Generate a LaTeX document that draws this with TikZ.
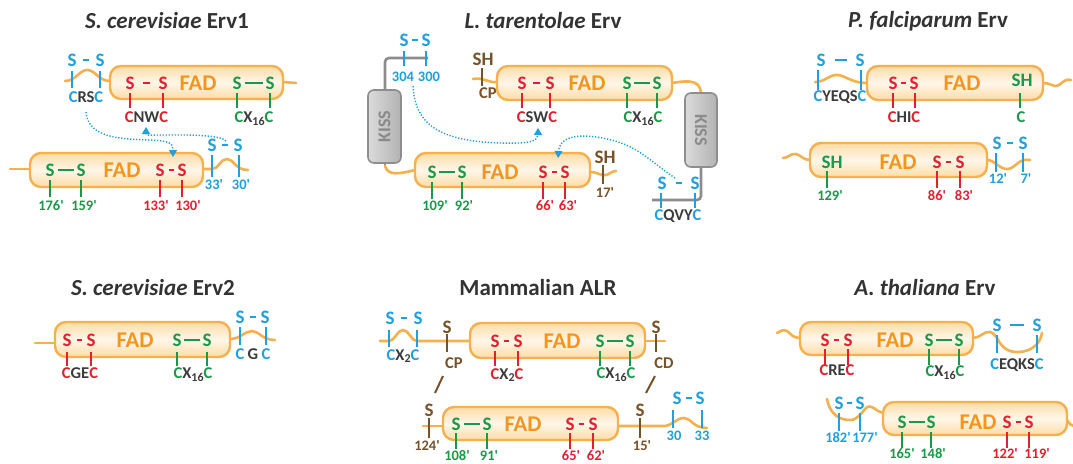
\documentclass[tikz,border=0pt]{standalone}
\usepackage{fontspec}
\setmainfont{Carlito}
\usetikzlibrary{arrows.meta}
\definecolor{sblue}{HTML}{1FA0E0}
\definecolor{sred}{HTML}{E5202E}
\definecolor{sgreen}{HTML}{1A9A48}
\definecolor{sbrown}{HTML}{7A5228}
\definecolor{dk}{HTML}{3C3C3C}
\definecolor{ttlgray}{HTML}{333333}
\definecolor{fadorange}{HTML}{F7941D}
\definecolor{chainor}{HTML}{F6B04E}
\definecolor{boxedge}{HTML}{FCDCA6}
\definecolor{boxmid}{HTML}{FFF7EA}
\definecolor{kissfill}{HTML}{D2D2D2}
\definecolor{kissdraw}{HTML}{8E8E8E}
\definecolor{kisstext}{HTML}{8A8A8A}
\definecolor{graych}{HTML}{8C8C8C}
\newcommand{\prm}{\textquotesingle}
\newcommand{\lowidx}[1]{\raisebox{-0.35ex}{\fontsize{12}{12}\selectfont #1}}
\newcommand{\cxc}[2]{\textcolor{#1}{C}\textcolor{dk}{#2}\textcolor{#1}{C}}
\newcommand{\cxn}[2]{\textcolor{#1}{C}\textcolor{dk}{X\lowidx{#2}}\textcolor{#1}{C}}
\newcommand{\ssp}[5]{%
  \node[slab,text=#4] at (#1,#3) {S};
  \node[slab,text=#4] at (#2,#3) {S};
  \draw[#4,line width=2.4pt] ({(#1+#2)/2-#5},#3) -- ({(#1+#2)/2+#5},#3);}
\newcommand{\tk}[4]{\draw[#1,line width=1.5pt] (#2,#3) -- (#2,#4);}
\begin{document}
\begin{tikzpicture}[x=1pt,y=-1pt,
  slab/.style={font=\fontsize{19}{19}\selectfont\bfseries, inner sep=0pt},
  res/.style={font=\fontsize{16.5}{16.5}\selectfont\bfseries, inner sep=0pt, text=dk},
  num/.style={font=\fontsize{14.5}{14.5}\selectfont\bfseries, inner sep=0pt},
  fadt/.style={font=\fontsize{22.5}{22.5}\selectfont\bfseries, text=fadorange, inner sep=0pt},
  ttl/.style={font=\fontsize{23}{23}\selectfont\bfseries, text=ttlgray, inner sep=0pt},
  chain/.style={draw=chainor, line width=2.6pt, line cap=round},
  graychain/.style={draw=graych, line width=2.6pt},
  fadbox/.style={draw=chainor, line width=2.4pt, rounded corners=11pt, top color=boxedge, bottom color=boxedge, middle color=boxmid},
  kiss/.style={draw=kissdraw, line width=1.6pt, rounded corners=6pt, left color=kissfill!80!white, right color=kissfill!85!black},
  kisst/.style={font=\fontsize{18}{18}\selectfont\bfseries, text=kisstext, inner sep=0pt},
  dotarr/.style={draw=sblue, line width=1.4pt, dash pattern=on 1.3pt off 1.7pt, -{Triangle[length=7pt,width=8pt]}}
]
\useasboundingbox (0,0) rectangle (1073,463);
\fill[white] (0,0) rectangle (1073,463);

% ================= Panel 1: S. cerevisiae Erv1 =================
\node[ttl] (t1) at (167,21) {\textit{S. cerevisiae} Erv1};
\draw[chain] (65,81) .. controls (76,81) and (80,69) .. (88,70) .. controls (96,71) and (99,81) .. (110,81);
\draw[chain] (283,82) -- (296,83);
\draw[fadbox] (110,66) rectangle (283,99);
\ssp{72}{100}{60}{sblue}{3}
\tk{sblue}{72}{71}{88} \tk{sblue}{100}{71}{88}
\node[res] (p1a) at (86,97) {\cxc{sblue}{RS}};
\ssp{130}{163}{83}{sred}{3.5}
\tk{sred}{130}{93}{108} \tk{sred}{163}{93}{108}
\node[res] (p1b) at (146.5,117) {\cxc{sred}{NW}};
\node[fadt] at (198,83) {FAD};
\ssp{237}{270}{83}{sgreen}{9}
\tk{sgreen}{237}{93}{108} \tk{sgreen}{270}{93}{108}
\node[res] at (254,119) {\cxn{sgreen}{16}};
% bottom
\draw[chain] (10,169) -- (30,169);
\draw[chain] (203,169) -- (212,169) .. controls (219,169) and (220,159) .. (227,159) .. controls (234,159) and (235,170) .. (248,170);
\draw[fadbox] (30,153) rectangle (203,187);
\ssp{50}{81}{170}{sgreen}{8}
\node[fadt] at (122,170) {FAD};
\ssp{160}{182}{170}{sred}{2.5}
\tk{sgreen}{50}{180}{197} \tk{sgreen}{81}{180}{197}
\tk{sred}{160}{180}{197} \tk{sred}{182}{180}{197}
\node[num,text=sgreen] at (51,206) {176\prm};
\node[num,text=sgreen] at (84,206) {159\prm};
\node[num,text=sred] at (156,206) {133\prm};
\node[num,text=sred] at (188,206) {130\prm};
\ssp{212}{238}{145}{sblue}{3}
\tk{sblue}{212}{155}{177} \tk{sblue}{239}{155}{177}
\node[num,text=sblue] at (214,185) {33\prm};
\node[num,text=sblue] at (241,185) {30\prm};
\draw[dotarr] (86,112) .. controls (88,138) and (120,139) .. (150,140) .. controls (168,141) and (173,142) .. (173,157);
\draw[dotarr] (226,141) .. controls (220,134) and (180,135) .. (160,135) .. controls (150,135) and (146,136) .. (146,127);

% ================= Panel 2: L. tarentolae Erv =================
\node[ttl] at (543,21) {\textit{L. tarentolae} Erv};
\draw[graychain, rounded corners=4pt] (385,92) -- (385,58) -- (428,58);
\ssp{404}{426}{40}{sblue}{3}
\tk{sblue}{404}{51}{66} \tk{sblue}{426}{51}{66}
\node[num,text=sblue] at (403,77) {304};
\node[num,text=sblue] at (429,77) {300};
\draw[graychain] (385,160) -- (385,167);
\draw[chain] (385,166) .. controls (388,176) and (399,174) .. (415,170);
\draw[kiss] (368,90) rectangle (401,163);
\node[kisst,rotate=90] at (384.5,126.5) {KISS};
\draw[fadbox] (415,153) rectangle (590,187);
\ssp{432}{462}{172}{sgreen}{8}
\node[fadt] at (500,172) {FAD};
\ssp{543}{565}{172}{sred}{2.5}
\tk{sgreen}{432}{182}{199} \tk{sgreen}{462}{182}{199}
\tk{sred}{543}{182}{199} \tk{sred}{565}{182}{199}
\node[num,text=sgreen] at (435,206) {109\prm};
\node[num,text=sgreen] at (464,206) {92\prm};
\node[num,text=sred] at (545,206) {66\prm};
\node[num,text=sred] at (568,206) {63\prm};
\draw[chain] (590,172) .. controls (598,172) and (600,176) .. (606,175) .. controls (610,174) and (612,171) .. (616,171);
\node[slab,text=sbrown] at (605,157) {SH};
\tk{sbrown}{603}{165}{184}
\node[num,text=sbrown] at (605,193) {17\prm};
% top
\draw[chain] (473,79) .. controls (483,77) and (488,83) .. (497,82);
\node[slab,text=sbrown] at (483,59) {SH};
\tk{sbrown}{482}{68}{86}
\node[res,text=sbrown] at (488,93) {CP};
\draw[chain] (672,83) .. controls (690,80) and (701,80) .. (701,95);
\draw[fadbox] (497,66) rectangle (672,100);
\ssp{522}{550}{83}{sred}{3.5}
\tk{sred}{522}{93}{108} \tk{sred}{550}{93}{108}
\node[res] at (537,117) {\cxc{sred}{SW}};
\node[fadt] at (587,83) {FAD};
\ssp{627}{657}{83}{sgreen}{8}
\tk{sgreen}{627}{93}{108} \tk{sgreen}{657}{93}{108}
\node[res] at (643,119) {\cxn{sgreen}{16}};
\draw[graychain, rounded corners=4pt] (701,165) -- (701,200) -- (652,200);
\draw[kiss] (685,93) rectangle (717,167);
\node[kisst,rotate=-90] at (701,130) {KISS};
\ssp{662}{695}{183}{sblue}{3}
\tk{sblue}{661}{193}{208} \tk{sblue}{695}{193}{208}
\node[res] at (678,216) {\cxc{sblue}{QVY}};
\draw[dotarr] (413,86) .. controls (415,125) and (440,141) .. (500,143) .. controls (530,144) and (538,141) .. (538,128);
\draw[dotarr] (675,178) .. controls (655,165) and (640,148) .. (615,141) .. controls (590,134) and (560,132) .. (558,158);

% ================= Panel 3: P. falciparum Erv =================
\node[ttl] at (928,21) {\textit{P. falciparum} Erv};
\draw[chain] (815,82) .. controls (825,82) and (830,74) .. (838,75) .. controls (846,76) and (852,83) .. (867,83);
\draw[chain] (1043,83) .. controls (1050,83) and (1052,86) .. (1056,86) .. controls (1061,86) and (1063,78) .. (1071,80);
\draw[fadbox] (867,66) rectangle (1043,100);
\ssp{821}{860}{60}{sblue}{6}
\tk{sblue}{818}{70}{90} \tk{sblue}{861}{70}{90}
\node[res] at (840,97) {\cxc{sblue}{YEQS}};
\ssp{893}{914}{83}{sred}{2.5}
\tk{sred}{893}{93}{108} \tk{sred}{915}{93}{108}
\node[res] at (904,117) {\cxc{sred}{HI}};
\node[fadt] at (962,83) {FAD};
\node[slab,text=sgreen] at (1022,80) {SH};
\tk{sgreen}{1020}{93}{108}
\node[res,text=sgreen] at (1021,117) {C};
% bottom
\draw[chain] (783,158) .. controls (788,158) and (791,153) .. (796,154) .. controls (801,155) and (803,160) .. (810,160);
\draw[chain] (987,160) .. controls (995,160) and (1000,170) .. (1008,169) .. controls (1016,168) and (1018,158) .. (1030,160);
\draw[fadbox] (810,143) rectangle (987,177);
\node[slab,text=sgreen] at (832,162) {SH};
\tk{sgreen}{827}{171}{188}
\node[num,text=sgreen] at (830,196) {129\prm};
\node[fadt] at (898,162) {FAD};
\ssp{937}{960}{162}{sred}{2.5}
\tk{sred}{937}{171}{188} \tk{sred}{960}{171}{188}
\node[num,text=sred] at (937,196) {86\prm};
\node[num,text=sred] at (964,196) {83\prm};
\ssp{997}{1023}{143}{sblue}{3}
\tk{sblue}{996}{153}{172} \tk{sblue}{1023}{153}{172}
\node[num,text=sblue] at (998,179) {12\prm};
\node[num,text=sblue] at (1026,179) {7\prm};

% ================= Panel 4: S. cerevisiae Erv2 =================
\node[ttl] at (153,288) {\textit{S. cerevisiae} Erv2};
\draw[chain] (35,343) -- (55,343);
\draw[chain] (230,339) .. controls (240,339) and (245,331) .. (252,331) .. controls (259,331) and (262,340) .. (275,340);
\draw[fadbox] (55,322) rectangle (230,357);
\ssp{67}{91}{340}{sred}{2.5}
\tk{sred}{67}{352}{366} \tk{sred}{91}{352}{366}
\node[res] at (80,373) {\cxc{sred}{GE}};
\node[fadt] at (135,340) {FAD};
\ssp{177}{207}{340}{sgreen}{8}
\tk{sgreen}{177}{352}{366} \tk{sgreen}{207}{352}{366}
\node[res] at (193,375) {\cxn{sgreen}{16}};
\ssp{240}{265}{317}{sblue}{3}
\tk{sblue}{240}{327}{345} \tk{sblue}{266}{327}{345}
\node[res,text=sblue] at (240,354) {C};
\node[res] at (253,354) {G};
\node[res,text=sblue] at (266,354) {C};

% ================= Panel 5: Mammalian ALR =================
\node[ttl] at (538,288) {Mammalian ALR};
\draw[chain] (380,341) -- (389,341) .. controls (395,341) and (397,330) .. (403,330) .. controls (409,330) and (411,341) .. (417,341) -- (470,341);
\draw[chain] (645,341) -- (665,341);
\draw[fadbox] (470,323) rectangle (645,358);
\ssp{390}{418}{318}{sblue}{3}
\tk{sblue}{389}{330}{347} \tk{sblue}{417}{330}{347}
\node[res] at (403,356) {\cxn{sblue}{2}};
\node[slab,text=sbrown] at (447,327) {S};
\tk{sbrown}{447}{334}{352}
\node[res,text=sbrown] at (454,363) {CP};
\ssp{495}{518}{341}{sred}{2.5}
\tk{sred}{495}{351}{366} \tk{sred}{518}{351}{366}
\node[res] at (507,375) {\cxn{sred}{2}};
\node[fadt] at (562,341) {FAD};
\ssp{600}{630}{341}{sgreen}{8}
\tk{sgreen}{600}{351}{366} \tk{sgreen}{630}{351}{366}
\node[res] at (616,375) {\cxn{sgreen}{16}};
\node[slab,text=sbrown] at (656,327) {S};
\tk{sbrown}{656}{334}{352}
\node[res,text=sbrown] at (664,363) {CD};
\draw[sbrown,line width=2pt] (443,376) -- (435,393);
\draw[sbrown,line width=2pt] (655,376) -- (646,393);
% bottom
\draw[chain] (423,426) -- (443,426);
\draw[chain] (618,426) -- (664,426) .. controls (672,426) and (676,418) .. (684,418) .. controls (691,418) and (693,428) .. (707,428);
\draw[fadbox] (443,407) rectangle (618,440);
\node[slab,text=sbrown] at (429,410) {S};
\tk{sbrown}{429}{418}{438}
\node[num,text=sbrown] at (427,446) {124\prm};
\ssp{456}{487}{424}{sgreen}{8}
\node[fadt] at (523,424) {FAD};
\ssp{570}{593}{424}{sred}{2.5}
\tk{sgreen}{456}{433}{449} \tk{sgreen}{487}{433}{449}
\tk{sred}{570}{433}{449} \tk{sred}{593}{433}{449}
\node[num,text=sgreen] at (457,456) {108\prm};
\node[num,text=sgreen] at (489,456) {91\prm};
\node[num,text=sred] at (571,456) {65\prm};
\node[num,text=sred] at (596,456) {62\prm};
\node[slab,text=sbrown] at (640,410) {S};
\tk{sbrown}{640}{418}{438}
\node[num,text=sbrown] at (642,446) {15\prm};
\ssp{677}{700}{398}{sblue}{3}
\tk{sblue}{673}{410}{428} \tk{sblue}{702}{410}{428}
\node[num,text=sblue] at (674,436) {30};
\node[num,text=sblue] at (702,436) {33};

% ================= Panel 6: A. thaliana Erv =================
\node[ttl] at (925,288) {\textit{A. thaliana} Erv};
\draw[chain] (777,333) .. controls (781,331) and (783,329) .. (787,331) .. controls (791,334) and (793,338) .. (800,338);
\draw[chain] (973,338) .. controls (980,338) and (984,331) .. (990,332) .. controls (994,333) and (995,336) .. (997,338) .. controls (1003,350) and (1010,352) .. (1018,352) .. controls (1030,352) and (1040,345) .. (1042,333);
\draw[fadbox] (800,322) rectangle (973,355);
\ssp{825}{848}{340}{sred}{2.5}
\tk{sred}{825}{349}{365} \tk{sred}{848}{349}{365}
\node[res] at (837,370) {\cxc{sred}{RE}};
\node[fadt] at (895,340) {FAD};
\ssp{929}{959}{340}{sgreen}{8}
\tk{sgreen}{929}{349}{365} \tk{sgreen}{959}{349}{365}
\node[res] at (945,373) {\cxn{sgreen}{16}};
\ssp{997}{1037}{325}{sblue}{7}
\tk{sblue}{997}{335}{353} \tk{sblue}{1037}{335}{353}
\node[res] at (1017,365) {\cxc{sblue}{EQKS}};
% bottom
\draw[chain] (827,399) .. controls (830,415) and (840,420) .. (850,420) .. controls (858,420) and (862,412) .. (866,408) .. controls (872,403) and (876,412) .. (883,413);
\draw[chain] (1067,420) .. controls (1070,424) and (1071,426) .. (1074,426);
\draw[fadbox] (883,402) rectangle (1067,435);
\ssp{839}{860}{403}{sblue}{2.5}
\tk{sblue}{839}{413}{431} \tk{sblue}{860}{413}{431}
\node[num,text=sblue] at (838,438) {182\prm};
\node[num,text=sblue] at (865,438) {177\prm};
\ssp{902}{931}{422}{sgreen}{8}
\node[fadt] at (978,422) {FAD};
\ssp{1007}{1029}{422}{sred}{2.5}
\tk{sgreen}{902}{432}{448} \tk{sgreen}{931}{432}{448}
\tk{sred}{1007}{432}{448} \tk{sred}{1029}{432}{448}
\node[num,text=sgreen] at (902,454) {165\prm};
\node[num,text=sgreen] at (933,454) {148\prm};
\node[num,text=sred] at (1005,454) {122\prm};
\node[num,text=sred] at (1037,454) {119\prm};
\end{tikzpicture}
\end{document}
